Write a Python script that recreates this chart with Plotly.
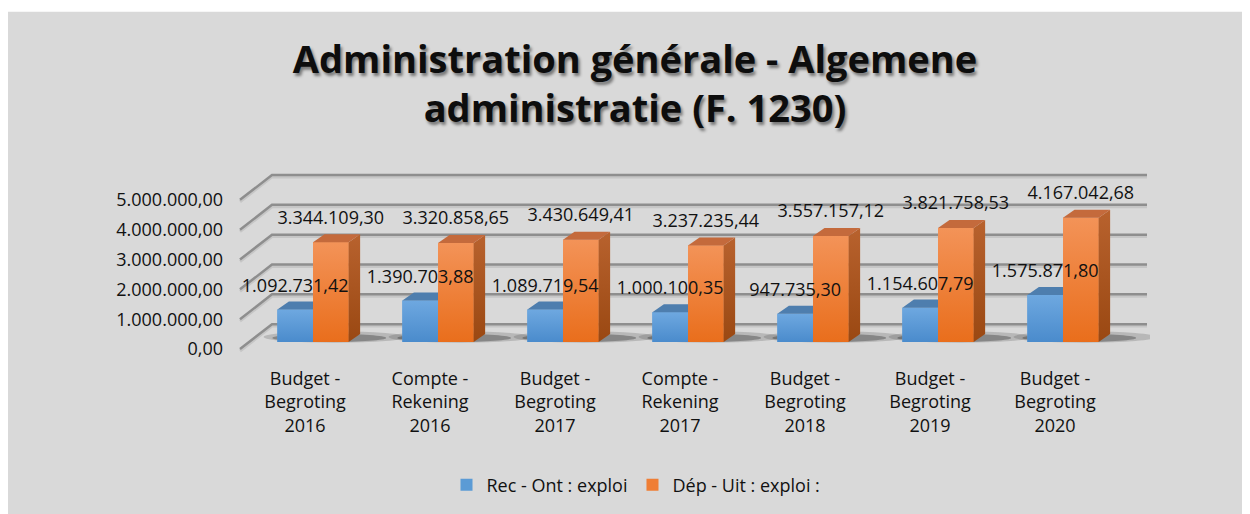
import plotly.graph_objects as go

# ---------------- data ----------------
categories = [
    "Budget -<br>Begroting<br>2016",
    "Compte -<br>Rekening<br>2016",
    "Budget -<br>Begroting<br>2017",
    "Compte -<br>Rekening<br>2017",
    "Budget -<br>Begroting<br>2018",
    "Budget -<br>Begroting<br>2019",
    "Budget -<br>Begroting<br>2020",
]
rec_values = [1092731.42, 1390703.88, 1089719.54, 1000100.35, 947735.30, 1154607.79, 1575871.80]
dep_values = [3344109.30, 3320858.65, 3430649.41, 3237235.44, 3557157.12, 3821758.53, 4167042.68]
y_ticks = [0, 1000000, 2000000, 3000000, 4000000, 5000000]
series_names = ["Rec - Ont : exploi", "Dép - Uit : exploi :"]
title_text = "Administration générale - Algemene<br>administratie (F. 1230)"

# ---------------- geometry / style ----------------
W, H = 1242, 506           # page body margin (8px) brings it to 1250x514
ML, MR, MT, MB = 230, 100, 162, 158
XR = [-0.6, 6.696]
YR = [-200000, 6000000]
PW = W - ML - MR
PH = H - MT - MB

BW = 0.285          # bar width (category units)
BASE = 233000       # bars stand slightly behind the front edge of the floor
DDX = 0.092         # bar depth (x)
DDY = 270000        # bar depth (y)
LBL = 780000        # label offset above bar front top
GX0, GXB, GX1 = -0.584, -0.328, 6.672   # gridline front-left, back-left, right end
GDY = 833000        # wall depth in value units

FONT = "Open Sans"
FS = 18
BLUE = "#5b9bd5"
BLUE_GRAD = ["#4a8bcc", "#6ea8e0"]
BLUE_TOP = "#4e7eae"
ORANGE = "#ef7e35"
ORANGE_GRAD = ["#e96e1c", "#f39358"]
ORANGE_TOP = "#c46a3c"
ORANGE_SIDE_GRAD = ["#9a4812", "#b8622e"]
BG = "#d9d9d9"


def eu(v):
    s = f"{v:,.2f}"
    return s.replace(",", "X").replace(".", ",").replace("X", ".")


def px2paper_x(px):
    return (px - ML) / PW


def px2paper_y(py):
    return (H - MB - py) / PH


idx = list(range(len(categories)))

fig = go.Figure()

# front faces (real bars)
fig.add_trace(go.Bar(
    x=idx, y=rec_values, base=BASE, offset=-BW, width=BW,
    marker=dict(color=BLUE, line=dict(width=0)), name=series_names[0],
    hovertemplate="%{y:,.2f}<extra></extra>",
))
fig.add_trace(go.Bar(
    x=idx, y=dep_values, base=BASE, offset=0, width=BW,
    marker=dict(color=ORANGE, line=dict(width=0)), name=series_names[1],
    hovertemplate="%{y:,.2f}<extra></extra>",
))

# gradient shading of the front faces, computed from the same values
for vals, off, grad in ((rec_values, -BW, BLUE_GRAD), (dep_values, 0.0, ORANGE_GRAD)):
    for i, v in zip(idx, vals):
        xl, xr = i + off, i + off + BW
        fig.add_trace(go.Scatter(
            x=[xl, xr, xr, xl, xl], y=[BASE, BASE, BASE + v, BASE + v, BASE],
            mode="none", fill="toself",
            fillgradient=dict(type="vertical", colorscale=[[0, grad[0]], [1, grad[1]]]),
            showlegend=False, hoverinfo="skip"))

# 3D faces computed from the values
bt_x, bt_y = [], []
for i, v in zip(idx, rec_values):
    xl, xr, T = i - BW, i, BASE + v
    bt_x += [xl, xr, xr, xl + DDX, xl, None]
    bt_y += [T, T, T + DDY, T + DDY, T, None]
fig.add_trace(go.Scatter(x=bt_x, y=bt_y, mode="none", fill="toself",
                         fillcolor=BLUE_TOP, showlegend=False, hoverinfo="skip"))

ot_x, ot_y = [], []
for i, v in zip(idx, dep_values):
    xl, xr, T = i, i + BW, BASE + v
    ot_x += [xl, xr, xr + DDX, xl + DDX, xl, None]
    ot_y += [T, T, T + DDY, T + DDY, T, None]
    fig.add_trace(go.Scatter(
        x=[xr, xr, xr + DDX, xr + DDX, xr], y=[BASE, T, T + DDY, BASE + DDY, BASE],
        mode="none", fill="toself",
        fillgradient=dict(type="vertical",
                          colorscale=[[0, ORANGE_SIDE_GRAD[0]], [1, ORANGE_SIDE_GRAD[1]]]),
        showlegend=False, hoverinfo="skip"))
fig.add_trace(go.Scatter(x=ot_x, y=ot_y, mode="none", fill="toself",
                         fillcolor=ORANGE_TOP, showlegend=False, hoverinfo="skip"))

# data labels
fig.add_trace(go.Scatter(
    x=[i - BW / 2 for i in idx], y=[BASE + v + LBL * 0.96 for v in rec_values],
    text=[eu(v) for v in rec_values], mode="text", textposition="middle center",
    textfont=dict(family=FONT, size=FS, color="#111111"),
    showlegend=False, hoverinfo="skip", cliponaxis=False))
fig.add_trace(go.Scatter(
    x=[i + BW / 2 for i in idx], y=[BASE + v + LBL for v in dep_values],
    text=[eu(v) for v in dep_values], mode="text", textposition="middle center",
    textfont=dict(family=FONT, size=FS, color="#111111"),
    showlegend=False, hoverinfo="skip", cliponaxis=False))

shapes = []
# thin white strip above the grey chart area
shapes.append(dict(type="rect", xref="paper", yref="paper", layer="below",
                   x0=px2paper_x(-10), x1=px2paper_x(W + 10),
                   y0=px2paper_y(3), y1=px2paper_y(-10),
                   fillcolor="white", line=dict(width=0)))
# floor shadows under bars
for i in idx:
    shapes.append(dict(type="circle", xref="x", yref="y", layer="below",
                       x0=i - BW - 0.11, x1=i + BW + 0.46,
                       y0=BASE - 20000, y1=BASE + 360000,
                       fillcolor="rgba(70,70,70,0.22)", line=dict(width=0)))
    shapes.append(dict(type="circle", xref="x", yref="y", layer="below",
                       x0=i - BW - 0.04, x1=i + BW + 0.3,
                       y0=BASE, y1=BASE + 280000,
                       fillcolor="rgba(40,40,40,0.35)", line=dict(width=0)))
# gridlines (front edge + back wall) computed from tick values
for t in y_ticks:
    sh = 65000
    shapes.append(dict(type="path", xref="x", yref="y", layer="below",
                       path=f"M {GX0},{t - sh} L {GXB},{t + GDY - sh} L {GX1},{t + GDY - sh}",
                       line=dict(color="#c6c6c6", width=3)))
    shapes.append(dict(type="path", xref="x", yref="y", layer="below",
                       path=f"M {GX0},{t} L {GXB},{t + GDY} L {GX1},{t + GDY}",
                       line=dict(color="#8e8e8e", width=2.5)))

fig.update_layout(
    width=W, height=H,
    margin=dict(l=ML, r=MR, t=MT, b=MB, pad=0),
    paper_bgcolor=BG, plot_bgcolor="rgba(0,0,0,0)",
    separators=",.",
    barmode="overlay",
    shapes=shapes,
    title=dict(text=title_text, x=627 / W, xref="container", xanchor="center",
               y=1 - 65 / H, yref="container", yanchor="top",
               font=dict(family=FONT, size=38, color="#0d0d0d", weight="bold",
                         shadow="2px 3px 3px rgba(0,0,0,0.45)")),
    xaxis=dict(range=XR, tickvals=[i - 0.064 for i in idx], ticktext=categories,
               showgrid=False, zeroline=False, showline=False, ticks="",
               ticklabelstandoff=11,
               tickfont=dict(family=FONT, size=FS, color="#111111"), fixedrange=True),
    yaxis=dict(range=YR, tickvals=y_ticks, tickformat=",.2f",
               showgrid=False, zeroline=False, showline=False, ticks="",
               ticklabelstandoff=14,
               tickfont=dict(family=FONT, size=FS, color="#111111"), fixedrange=True),
    legend=dict(orientation="h", x=px2paper_x(628), xanchor="center",
                y=px2paper_y(477), yanchor="middle", bgcolor="rgba(0,0,0,0)",
                font=dict(family=FONT, size=FS, color="#111111"),
                traceorder="normal"),
    showlegend=True,
)

fig.write_html("out.html")
